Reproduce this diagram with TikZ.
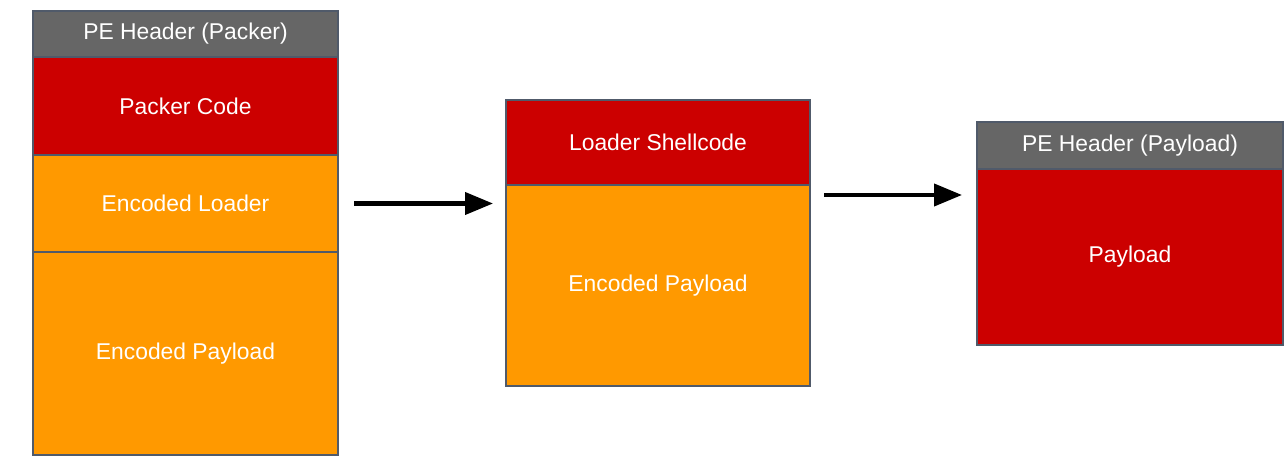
\documentclass[tikz,border=0pt]{standalone}
\usepackage{fontspec}
\setmainfont{Liberation Sans}
\usetikzlibrary{arrows.meta,positioning}
\definecolor{hdrgray}{RGB}{102,102,102}
\definecolor{codered}{RGB}{204,0,0}
\definecolor{encorange}{RGB}{255,153,0}
\definecolor{edgeslate}{RGB}{80,90,106}
\tikzset{
  seg/.style={rectangle, draw=edgeslate, fill=#1, line width=1.1pt,
              outer sep=0pt, inner sep=0pt, text=white,
              font=\fontsize{13}{15}\selectfont, text centered},
  arr/.style={-{Triangle[length=0.56cm, width=0.44cm]}, line width=2.3pt, black},
}

\begin{document}
\begin{tikzpicture}
        \useasboundingbox (0,0) rectangle (25.7,-9.48);
        % packed file
        \node[seg=hdrgray, minimum width=6.1cm, minimum height=0.92cm, anchor=north west]
              (pehdr) at (0.66,-0.22) {PE Header (Packer)};
        \node[seg=codered, minimum width=6.1cm, minimum height=1.96cm, below=0pt of pehdr]
              (pkcode) {Packer Code};
        \node[seg=encorange, minimum width=6.1cm, minimum height=1.94cm, below=0pt of pkcode]
              (encldr) {Encoded Loader};
        \node[seg=encorange, minimum width=6.1cm, minimum height=4.06cm, below=0pt of encldr]
              (encpay) {Encoded Payload};
        % after unpacking
        \node[seg=codered, minimum width=6.08cm, minimum height=1.7cm, anchor=north west]
              (ldrsc) at (10.12,-2.0) {Loader Shellcode};
        \node[seg=encorange, minimum width=6.08cm, minimum height=4.02cm, below=0pt of ldrsc]
              (encpaymid) {Encoded Payload};
        % final payload
        \node[seg=hdrgray, minimum width=6.12cm, minimum height=0.94cm, anchor=north west]
              (payhdr) at (19.54,-2.44) {PE Header (Payload)};
        \node[seg=codered, minimum width=6.12cm, minimum height=3.52cm, below=0pt of payhdr]
              (payload) {Payload};
        % steps
        \draw[arr] ([xshift=0.32cm]encldr.east) -- ([xshift=-0.26cm]encldr.east -| encpaymid.west);
        \coordinate (stepb) at ([yshift=-0.2cm]encpaymid.north east);
        \draw[arr] ([xshift=0.28cm]stepb) -- ([xshift=-0.3cm]stepb -| payload.west);
      \end{tikzpicture}
\end{document}
